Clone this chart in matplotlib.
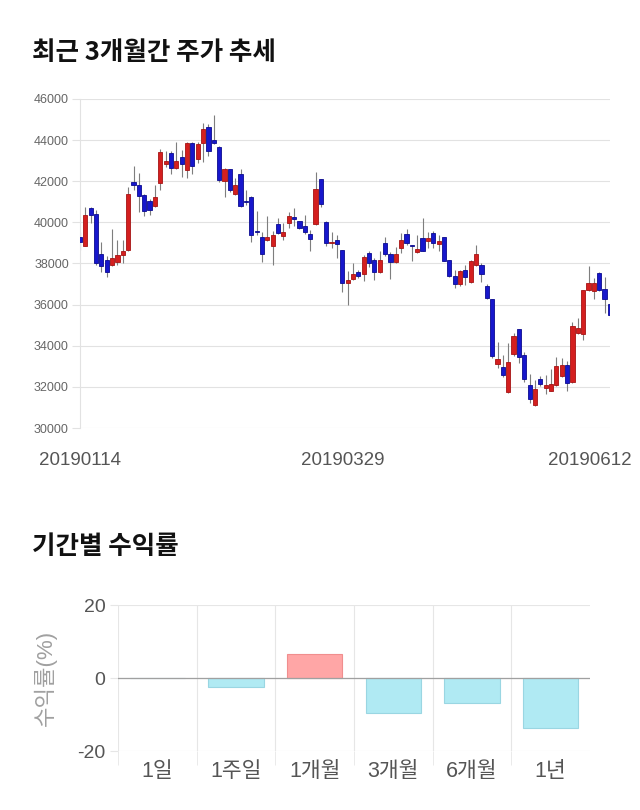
import numpy as np
import matplotlib.pyplot as plt
from matplotlib import transforms

plt.rcParams['font.family'] = ['Liberation Sans', 'Noto Sans CJK KR', 'DejaVu Sans']
plt.rcParams['axes.unicode_minus'] = False

# daily candles (KRW)
opens = [39300, 38850, 40700, 40400, 38450, 38150, 37950, 38050, 38400, 38650,
         41950, 41800, 41350, 41050, 40800, 41900, 42850, 43350, 42650, 43200,
         42550, 43850, 43100, 43850, 44650, 44000, 43650, 42000, 42600, 41400,
         42350, 41050, 41250, 39580, 39300, 39150, 38850, 39900, 39350, 39950,
         40280, 40050, 39800, 39450, 39900, 42100, 40000, 39000, 39150, 38650,
         37050, 37250, 37600, 37500, 38500, 38150, 37600, 39000, 38450, 38050,
         38750, 39450, 38900, 38550, 39250, 39100, 39500, 38970, 39280, 38150,
         37400, 37000, 37700, 37100, 37950, 37950, 36900, 36250, 33100, 32950,
         31750, 33600, 34800, 33550, 32100, 31100, 32400, 31950, 31800, 32100,
         32550, 33050, 32250, 34600, 34550, 36700, 36650, 37550, 36750, 36050]
highs = [39550, 40750, 40750, 40600, 39050, 38350, 39700, 39150, 39150, 41700,
         42750, 42400, 41400, 41150, 41800, 43550, 43450, 43450, 43900, 43500,
         43900, 43900, 43900, 44850, 44800, 45200, 43700, 42650, 42600, 42150,
         42600, 41550, 41300, 40550, 39550, 40300, 39600, 40200, 39950, 40500,
         40700, 40050, 40350, 39650, 42450, 42100, 40050, 39550, 39400, 38650,
         37650, 38000, 37700, 38400, 38600, 38250, 38600, 39300, 38550, 38800,
         39500, 39700, 38900, 39400, 40200, 39550, 39600, 39400, 39300, 38150,
         37700, 37700, 37950, 38150, 38900, 38000, 37000, 36250, 34200, 33550,
         34150, 34600, 34800, 33700, 32650, 32350, 32550, 32600, 32850, 33450,
         33400, 33250, 35150, 35350, 36700, 37900, 37300, 37600, 37350, 36100]
lows = [38650, 38850, 39950, 37950, 37600, 37350, 37900, 37950, 38000, 38600,
        41550, 40500, 40300, 40350, 40750, 41550, 42700, 42350, 42600, 42200,
        42150, 42350, 42900, 42950, 43250, 43800, 41950, 41250, 41500, 41350,
        40750, 40850, 39050, 39400, 38050, 39100, 37950, 39450, 39150, 39750,
        39800, 39700, 39450, 38600, 39850, 40750, 38850, 38750, 38250, 36600,
        36000, 37200, 37300, 37150, 37850, 37200, 37550, 38350, 37250, 38000,
        38500, 38900, 38100, 38500, 38600, 38750, 38750, 38600, 38100, 37350,
        36800, 36900, 36950, 37050, 37900, 37100, 36250, 33400, 32900, 32500,
        31700, 33500, 33150, 32250, 31200, 31050, 32050, 31650, 31800, 32050,
        32500, 31800, 32200, 34550, 34300, 36650, 36250, 36650, 35600, 35400]
closes = [39050, 40350, 40350, 38000, 37900, 37600, 38250, 38400, 38600, 41400,
          41800, 41300, 40550, 40600, 41250, 43400, 43000, 42650, 43000, 42850,
          43850, 42750, 43800, 44550, 43450, 43850, 42050, 42600, 41550, 41800,
          40800, 41000, 39400, 39530, 38450, 39300, 39400, 39500, 39550, 40300,
          40170, 39750, 39550, 39200, 41600, 40900, 39000, 39050, 38950, 37050,
          37200, 37500, 37400, 38300, 38000, 37600, 38150, 38450, 38050, 38450,
          39150, 39000, 38850, 38700, 38600, 39230, 39000, 39070, 38130, 37400,
          37000, 37650, 37350, 38100, 38450, 37500, 36300, 33500, 33350, 32600,
          33200, 34450, 33450, 32400, 31400, 31900, 32150, 32080, 32150, 33000,
          33050, 32200, 34950, 34850, 36700, 37050, 37050, 36700, 36250, 35500]
date_labels = ['20190114', '20190329', '20190612']
date_index = [0, 49, 99]
price_ticks = [30000, 32000, 34000, 36000, 38000, 40000, 42000, 44000, 46000]

periods = ['1일', '1주일', '1개월', '3개월', '6개월', '1년']
returns = [0.0, -2.5, 6.5, -9.7, -6.8, -13.6]

fig = plt.figure(figsize=(6.4, 8.1), dpi=100)

# ---- candlestick chart ----
fig.text(0.05, 0.935, '최근 3개월간 주가 추세', fontsize=18.4, fontweight='bold',
         family='Noto Sans CJK KR', color='#111111', va='center')
ax = fig.add_axes([0.125, 0.4716, 0.828, 0.4062])
o, h, l, c = (np.array(a, dtype=float) for a in (opens, highs, lows, closes))
x = np.arange(len(o))
up = c >= o
body_bottom = np.minimum(o, c)
body_height = np.maximum(np.abs(c - o), 60)

ax.vlines(x, l, h, color='#7e7e7e', linewidth=0.8, zorder=2)
ax.bar(x[up], body_height[up], bottom=body_bottom[up], width=0.78,
       color='#d41f1f', edgecolor='#a51414', linewidth=0.6, zorder=3)
ax.bar(x[~up], body_height[~up], bottom=body_bottom[~up], width=0.78,
       color='#1717cc', edgecolor='#0b0b8f', linewidth=0.6, zorder=3)

ax.set_xlim(0, 99)
ax.set_ylim(30000, 46000)
ax.set_yticks(price_ticks)
ax.grid(axis='y', color='#e2e2e2', linewidth=0.8)
ax.set_axisbelow(True)
for s in ['top', 'right', 'bottom']:
    ax.spines[s].set_visible(False)
ax.spines['left'].set_color('#e2e2e2')
ax.tick_params(axis='y', length=6, color='#e2e2e2', labelsize=9,
               labelcolor='#666666', pad=2)
ax.set_xticks(date_index, date_labels)
ax.tick_params(axis='x', length=0, labelsize=13.5, labelcolor='#555555', pad=17)
last = ax.get_xticklabels()[-1]
last.set_transform(last.get_transform() +
                   transforms.ScaledTranslation(-0.2, 0, fig.dpi_scale_trans))

# ---- returns by period ----
fig.text(0.05, 0.3255, '기간별 수익률', fontsize=18.4, fontweight='bold',
         family='Noto Sans CJK KR', color='#111111', va='center')
ax2 = fig.add_axes([0.1844, 0.0728, 0.7375, 0.1802])
xs = np.arange(len(periods))
fill = ['#ffa6a6' if v > 0 else '#b0eaf3' for v in returns]
edge = ['#f08e8e' if v > 0 else '#9ad6e2' for v in returns]
ax2.bar(xs, returns, width=0.7, color=fill, edgecolor=edge, linewidth=0.8, zorder=3)
ax2.axhline(0, color='#a0a0a0', linewidth=0.9, zorder=4)
ax2.set_xlim(-0.5, 5.5)
ax2.set_ylim(-20, 20)
ax2.set_yticks([-20, 0, 20])
ax2.grid(axis='y', color='#e6e6e6', linewidth=0.8)
ax2.set_xticks(xs, periods)
ax2.set_xticks(np.arange(-0.5, 5, 1), minor=True)
ax2.grid(axis='x', which='minor', color='#e6e6e6', linewidth=0.8)
ax2.set_axisbelow(True)
for s in ax2.spines.values():
    s.set_visible(False)
ax2.tick_params(axis='x', which='major', length=0, labelsize=15.5,
                labelcolor='#555555', pad=7)
ax2.tick_params(axis='x', which='minor', length=10, color='#e6e6e6')
ax2.tick_params(axis='y', length=6, color='#e6e6e6', labelsize=14,
                labelcolor='#555555', pad=3)
ax2.set_ylabel('수익률(%)', fontsize=16, color='#a0a0a0')
ax2.yaxis.set_label_coords(-0.13, 0.5)

fig.savefig('out.png', dpi=100)
